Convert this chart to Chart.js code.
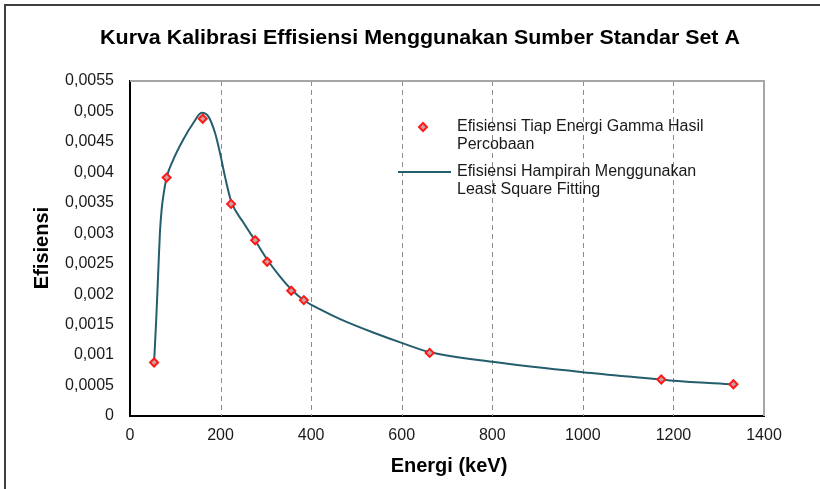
<!DOCTYPE html>
<html>
<head>
<meta charset="utf-8">
<title>Kurva Kalibrasi Effisiensi</title>
<script src="https://cdn.jsdelivr.net/npm/chart.js@4.4.1/dist/chart.umd.min.js"></script>
<style>
  html, body { margin: 0; padding: 0; background: #fff; }
  #wrap { width: 820px; height: 489px; position: relative; }
</style>
</head>
<body>
<div id="wrap"><canvas id="effChart" width="820" height="489"></canvas></div>
<script>
// measured points (keV, efficiency)
const energies = [53.2, 81.0, 160.6, 223.2, 276.4, 302.9, 356.0, 383.8, 661.7, 1173.2, 1332.5];
const efficiencies = [0.000878, 0.003915, 0.00488, 0.003482, 0.002885, 0.002533, 0.002056, 0.001903, 0.001036, 0.000599, 0.000521];

// least square fitting curve
const fitEnergies = [53.2, 58, 62, 66, 70, 75, 81, 95.6, 117.7, 139.8, 158.3, 172.9, 187.7, 198.7, 209.8, 223.2, 250, 276.4, 302.9, 330, 356, 383.8, 420, 464, 537, 600, 661.7, 800, 1000, 1173.2, 1200, 1332.5];
const fitValues = [0.00088, 0.0016, 0.0023, 0.0030, 0.0034, 0.00368, 0.00392, 0.00421, 0.00454, 0.00481, 0.00498, 0.00492, 0.00465, 0.00432, 0.00393, 0.00353, 0.00318, 0.00288, 0.00257, 0.0023, 0.00208, 0.0019, 0.00175, 0.00159, 0.00137, 0.0012, 0.00105, 0.00089, 0.00072, 0.0006, 0.00058, 0.00052];

const xTickLabels = ['0', '200', '400', '600', '800', '1000', '1200', '1400'];
const yTickLabels = ['0', '0,0005', '0,001', '0,0015', '0,002', '0,0025', '0,003', '0,0035', '0,004', '0,0045', '0,005', '0,0055'];

const chartTitle = 'Kurva Kalibrasi Effisiensi Menggunakan Sumber Standar Set A';
const xTitle = 'Energi (keV)';
const yTitle = 'Efisiensi';
const legendPoints = ['Efisiensi Tiap Energi Gamma Hasil', 'Percobaan'];
const legendFit = ['Efisiensi Hampiran Menggunakan', 'Least Square Fitting'];

const FONT = '"Liberation Sans", Arial, sans-serif';
const lineColor = '#245e6d';
const markerRed = '#ff1a1a';
const markerFill = '#c9a3a3';

Chart.defaults.font.family = FONT;
Chart.defaults.color = '#1a1a1a';

const decorations = {
    id: 'decorations',
    beforeDraw(chart) {
        const ctx = chart.ctx;
        ctx.save();
        // outer frame (only top and left edges visible)
        ctx.strokeStyle = '#404040';
        ctx.lineWidth = 2;
        ctx.beginPath();
        ctx.moveTo(5, 489);
        ctx.lineTo(5, 5);
        ctx.lineTo(820, 5);
        ctx.stroke();
        ctx.restore();
    },
    beforeDatasetsDraw(chart) {
        // dashed vertical grid lines at the inner x ticks
        const ctx = chart.ctx;
        const a = chart.chartArea;
        const xs = chart.scales.x;
        ctx.save();
        ctx.strokeStyle = '#8c8c8c';
        ctx.lineWidth = 1;
        ctx.setLineDash([5, 4]);
        xs.ticks.forEach(t => {
            if (t.value <= xs.min || t.value >= xs.max) return;
            const px = Math.round(xs.getPixelForValue(t.value)) + 0.5;
            ctx.beginPath();
            ctx.moveTo(px, a.top);
            ctx.lineTo(px, a.bottom);
            ctx.stroke();
        });
        ctx.restore();
    },
    afterDraw(chart) {
        const ctx = chart.ctx;
        const a = chart.chartArea;
        ctx.save();
        // plot area top and right edges
        ctx.strokeStyle = '#a6a6a6';
        ctx.lineWidth = 2;
        ctx.beginPath();
        ctx.moveTo(a.left, a.top);
        ctx.lineTo(a.right, a.top);
        ctx.lineTo(a.right, a.bottom);
        ctx.stroke();

        // title
        ctx.fillStyle = '#000';
        ctx.textAlign = 'center';
        ctx.textBaseline = 'middle';
        ctx.font = 'bold 20px ' + FONT;
        ctx.save();
        ctx.translate(420, 38);
        ctx.scale(1.07, 1);
        ctx.fillText(chartTitle, 0, 0);
        ctx.restore();

        // axis titles
        ctx.fillText(xTitle, 449, 466);
        ctx.save();
        ctx.translate(42, 248);
        ctx.rotate(-Math.PI / 2);
        ctx.fillText(yTitle, 0, 0);
        ctx.restore();

        // legend
        ctx.font = '16px ' + FONT;
        ctx.textAlign = 'left';
        const mx = 423, my = 127;
        ctx.beginPath();
        ctx.moveTo(mx, my - 4);
        ctx.lineTo(mx + 4, my);
        ctx.lineTo(mx, my + 4);
        ctx.lineTo(mx - 4, my);
        ctx.closePath();
        ctx.fillStyle = markerFill;
        ctx.fill();
        ctx.strokeStyle = markerRed;
        ctx.lineWidth = 2;
        ctx.stroke();
        ctx.fillStyle = '#1a1a1a';
        ctx.fillText(legendPoints[0], 457, 127);
        ctx.fillText(legendPoints[1], 457, 145);

        ctx.strokeStyle = lineColor;
        ctx.lineWidth = 2;
        ctx.beginPath();
        ctx.moveTo(398, 172);
        ctx.lineTo(451, 172);
        ctx.stroke();
        ctx.fillText(legendFit[0], 457, 172);
        ctx.fillText(legendFit[1], 457, 190);
        ctx.restore();
    }
};

const ctx = document.getElementById('effChart').getContext('2d');
const effChart = new Chart(ctx, {
    type: 'scatter',
    data: {
        datasets: [{
            label: legendPoints.join(' '),
            data: energies.map((e, i) => ({ x: e, y: efficiencies[i] })),
            pointStyle: 'rectRot',
            pointRadius: 4,
            pointBorderWidth: 2,
            pointBorderColor: markerRed,
            pointBackgroundColor: markerFill,
            showLine: false,
            order: 0
        }, {
            label: legendFit.join(' '),
            data: fitEnergies.map((e, i) => ({ x: e, y: fitValues[i] })),
            showLine: true,
            borderColor: lineColor,
            borderWidth: 2,
            pointRadius: 0,
            cubicInterpolationMode: 'monotone',
            order: 1
        }]
    },
    options: {
        responsive: false,
        animation: false,
        layout: {
            padding: { top: 81, right: 56, left: 0, bottom: 0 }
        },
        scales: {
            x: {
                type: 'linear',
                min: 0,
                max: 1400,
                afterFit: s => { s.height = 73; },
                ticks: {
                    stepSize: 200,
                    padding: 10,
                    font: { size: 16 },
                    color: '#1a1a1a',
                    callback: v => xTickLabels[Math.round(v / 200)]
                },
                grid: { display: false, drawTicks: false },
                border: { display: true, color: '#000', width: 2 }
            },
            y: {
                min: 0,
                max: 0.0055,
                afterFit: s => { s.width = 130; },
                ticks: {
                    stepSize: 0.0005,
                    padding: 16,
                    font: { size: 16 },
                    color: '#1a1a1a',
                    callback: v => yTickLabels[Math.round(v / 0.0005)]
                },
                grid: { display: false, drawTicks: false },
                border: { display: true, color: '#000', width: 2 }
            }
        },
        plugins: {
            legend: { display: false },
            tooltip: { enabled: false }
        }
    },
    plugins: [decorations]
});
</script>
</body>
</html>
